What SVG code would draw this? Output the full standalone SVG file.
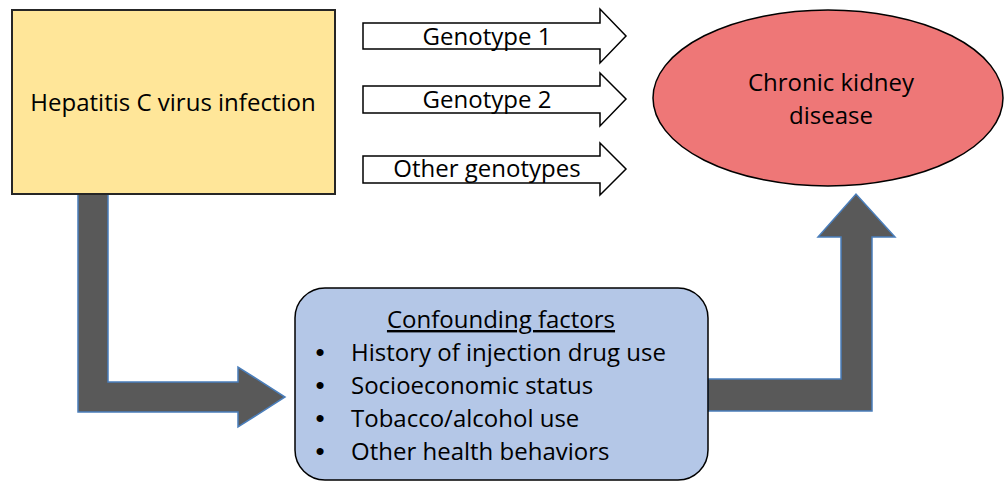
<svg xmlns="http://www.w3.org/2000/svg" width="1007" height="483" viewBox="0 0 1007 483">
<style>
text{font-family:"Open Sans","Liberation Sans",sans-serif;font-size:24px;fill:#000}
.c{text-anchor:middle}
.b{text-anchor:middle;font-family:"Liberation Sans",sans-serif;font-size:26px}
.thick{fill:#595959;stroke:#4A7EBB;stroke-width:1.5;stroke-linejoin:miter}
.geno{fill:#fff;stroke:#000;stroke-width:1.5;stroke-linejoin:miter}
</style>
<rect width="1007" height="483" fill="#fff"/>
<g id="connectors">
<polygon class="thick" points="78,194 108,194 108,382 238,382 238,367 285,397 238,427 238,412 78,412"/>
<polygon class="thick" points="708,379 841,379 841,237 818,237 856,194 895,237 872,237 872,411 708,411"/>
<g id="genotype1"><polygon class="geno" points="363,23 600,23 600,9 626,36 600,63 600,49 363,49"/><text class="c" x="487" y="45">Genotype 1</text></g>
<g id="genotype2"><polygon class="geno" points="363,86 600,86 600,73 626,99 600,126 600,113 363,113"/><text class="c" x="487" y="108">Genotype 2</text></g>
<g id="genotype-other"><polygon class="geno" points="363,156 600,156 600,143 626,169 600,195 600,183 363,183"/><text class="c" x="487" y="177">Other genotypes</text></g>
</g>
<g id="hcv">
<rect x="12" y="10" width="323" height="184" fill="#FFE699" stroke="#262626" stroke-width="2"/>
<text class="c" x="173" y="111">Hepatitis C virus infection</text>
</g>
<g id="ckd">
<ellipse cx="828" cy="98" rx="175" ry="88" fill="#EE7777" stroke="#000" stroke-width="1.5"/>
<text class="c" x="831" y="91">Chronic kidney</text>
<text class="c" x="831" y="124">disease</text>
</g>
<g id="confounders">
<rect x="295" y="288" width="413" height="192" rx="30" ry="30" fill="#B4C7E7" stroke="#000" stroke-width="1.5"/>
<text class="c" x="501" y="328" text-decoration="underline">Confounding factors</text>
<text class="b" x="320" y="361">•</text><text x="351" y="361">History of injection drug use</text>
<text class="b" x="320" y="394">•</text><text x="351" y="394">Socioeconomic status</text>
<text class="b" x="320" y="427">•</text><text x="351" y="427">Tobacco/alcohol use</text>
<text class="b" x="320" y="460">•</text><text x="351" y="460">Other health behaviors</text>
</g>
</svg>
